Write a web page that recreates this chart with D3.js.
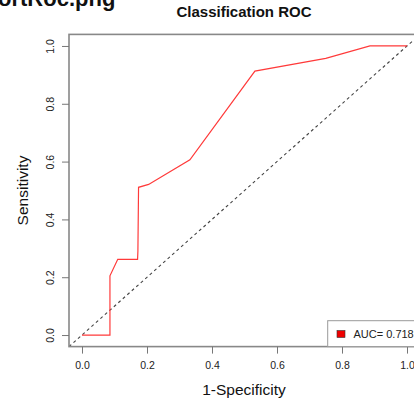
<!DOCTYPE html>
<html><head><meta charset="utf-8">
<script src="https://cdn.jsdelivr.net/npm/d3@7"></script>
<style>html,body{margin:0;padding:0;background:#fff;overflow:hidden}</style>
</head><body>
<script>
const fpr = [0, 0.086, 0.086, 0.11, 0.171, 0.172, 0.174, 0.205, 0.332, 0.532, 0.75, 0.886, 1.0];
const tpr = [0, 0, 0.205, 0.262, 0.262, 0.29, 0.511, 0.521, 0.606, 0.913, 0.957, 1.0, 1.0];
const xTicks = [0, 0.2, 0.4, 0.6, 0.8, 1.0];
const yTicks = [0, 0.2, 0.4, 0.6, 0.8, 1.0];
const aucLabel = "AUC= 0.718";
const title = "Classification ROC";
const fileLabel = "ortRoc.png";

const W = 414, H = 401;
const svg = d3.select("body").append("svg").attr("width", W).attr("height", H)
  .style("font-family", "'Liberation Sans', Arial, sans-serif");

const x = d3.scaleLinear().domain([-0.04, 1.04]).range([69, 420]);
const y = d3.scaleLinear().domain([-0.04, 1.04]).range([346.6, 34.4]);

// stray file label at top-left (cut off at the top edge, as in the reference)
svg.append("text").attr("x", -2).attr("y", 6).attr("font-weight", "bold")
  .attr("font-size", 22).attr("fill", "#111").text(fileLabel);

// title
svg.append("text").attr("x", 244).attr("y", 17).attr("text-anchor", "middle")
  .attr("font-weight", "bold").attr("font-size", 15).attr("fill", "#111").text(title);

svg.append("defs").append("clipPath").attr("id", "clip").append("rect")
  .attr("x", x(-0.04)).attr("y", y(1.04)).attr("width", x(1.04) - x(-0.04)).attr("height", y(-0.04) - y(1.04));

const g = svg.append("g").attr("clip-path", "url(#clip)");

// diagonal
g.append("line").attr("x1", x(-0.04)).attr("y1", y(-0.04)).attr("x2", x(1.04)).attr("y2", y(1.04))
  .attr("stroke", "#444").attr("stroke-width", 1.1).attr("stroke-dasharray", "3,3");

// ROC curve
const pts = fpr.map((f, i) => [f, tpr[i]]);
g.append("path").datum(pts)
  .attr("d", d3.line().x(d => x(d[0])).y(d => y(d[1])))
  .attr("fill", "none").attr("stroke", "#ff3a3a").attr("stroke-width", 1.2);

// box
svg.append("rect").attr("x", x(-0.04)).attr("y", y(1.04))
  .attr("width", x(1.04) - x(-0.04)).attr("height", y(-0.04) - y(1.04))
  .attr("fill", "none").attr("stroke", "#888").attr("stroke-width", 1.6);

// x axis
const xa = svg.append("g").attr("transform", `translate(0,${y(-0.04)})`)
  .call(d3.axisBottom(x).tickValues(xTicks).tickFormat(d3.format(".1f")).tickSize(7).tickPadding(8));
xa.select(".domain").remove();
xa.selectAll("line").attr("stroke", "#777");
xa.selectAll("text").attr("font-size", 10.5).attr("fill", "#222").attr("font-family", "'Liberation Sans', Arial, sans-serif");

// y axis
const ya = svg.append("g").attr("transform", `translate(${x(-0.04)},0)`)
  .call(d3.axisLeft(y).tickValues(yTicks).tickFormat(d3.format(".1f")).tickSize(7));
ya.select(".domain").remove();
ya.selectAll("line").attr("stroke", "#777");
ya.selectAll("text").attr("font-size", 10.5).attr("fill", "#222")
  .attr("font-family", "'Liberation Sans', Arial, sans-serif")
  .attr("x", null).attr("dy", null).attr("text-anchor", "middle")
  .attr("transform", "translate(-15,0) rotate(-90)");

// axis labels
svg.append("text").attr("x", 244).attr("y", 395).attr("text-anchor", "middle")
  .attr("font-size", 15.5).attr("fill", "#111").text("1-Specificity");
svg.append("text").attr("transform", `translate(28,${(y(-0.04) + y(1.04)) / 2}) rotate(-90)`)
  .attr("text-anchor", "middle").attr("font-size", 15.5).attr("fill", "#111").text("Sensitivity");

// legend
const lg = svg.append("g");
lg.append("rect").attr("x", 327.7).attr("y", 320.7).attr("width", 100).attr("height", y(-0.04) - 320.7)
  .attr("fill", "#fff").attr("stroke", "#999").attr("stroke-width", 1);
lg.append("rect").attr("x", 337).attr("y", 330.5).attr("width", 8).attr("height", 7)
  .attr("fill", "#ee0000").attr("stroke", "#333").attr("stroke-width", 0.6);
lg.append("text").attr("x", 353.5).attr("y", 338.3).attr("font-size", 11).attr("fill", "#222").text(aucLabel);
</script>
</body></html>
